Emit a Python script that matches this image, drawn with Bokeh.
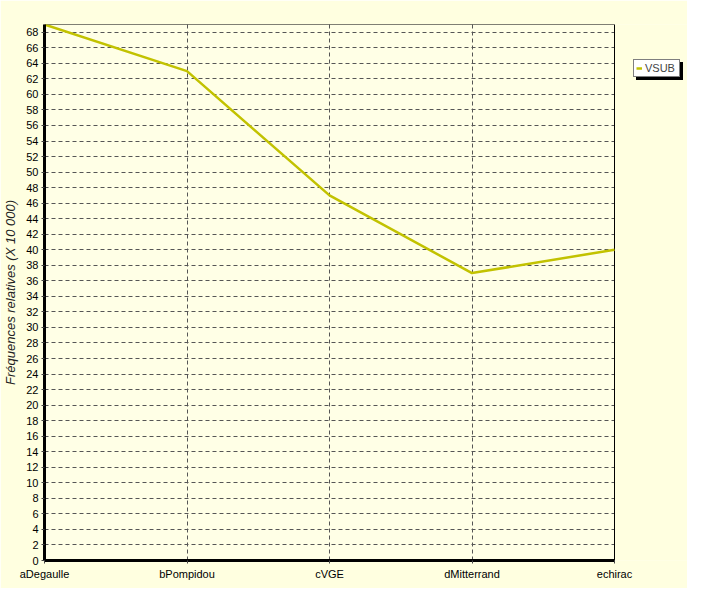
from bokeh.plotting import figure
from bokeh.models import Range1d, FixedTicker, SingleIntervalTicker, Legend, LegendItem, ColumnDataSource
from bokeh.embed import file_html
from bokeh.resources import INLINE

categories = ["aDegaulle", "bPompidou", "cVGE", "dMitterrand", "echirac"]
vsub = [69, 63, 47, 37, 40]
series_name = "VSUB"
y_title = "Fréquences relatives (X 10 000)"
y_max = 69

W, H = 687, 588
left, top, right, bottom = 44, 24, 0, 28
plot_px = 570  # width of the visible plotting box in pixels

n = len(categories)
xs = list(range(n))
frame_px = W - left - right
x_end = (n - 1) * frame_px / plot_px
src = ColumnDataSource(dict(x=xs, y=vsub))

p = figure(width=W, height=H, output_backend="svg", toolbar_location=None,
           x_range=Range1d(0, x_end), y_range=Range1d(0, y_max),
           min_border_left=left, min_border_top=top, min_border_right=right,
           min_border_bottom=bottom)
bg_outer = "#FFFFE0"
p.border_fill_color = bg_outer
p.background_fill_color = bg_outer
p.outline_line_color = None

# plot area background (beneath grid)
p.quad(left=0, right=n - 1, bottom=0, top=y_max, fill_color="#FFFFE6",
       line_color=None, level="image")
# cover the extension area right of the plotting box
p.quad(left=n - 1, right=x_end, bottom=0, top=y_max, fill_color=bg_outer,
       line_color=None)
# plot box outline
p.quad(left=0, right=n - 1, bottom=0, top=y_max, fill_alpha=0,
       line_color="black", line_width=1)

r = p.line("x", "y", source=src, line_color="#C2C200", line_width=2.5)

p.xaxis.ticker = FixedTicker(ticks=xs)
p.xaxis.bounds = (0, n - 1)
p.xaxis.major_label_overrides = {i: c for i, c in enumerate(categories)}
p.yaxis.ticker = SingleIntervalTicker(interval=2)
p.yaxis.minor_tick_line_color = None
p.xaxis.minor_tick_line_color = None
for ax in (p.xaxis, p.yaxis):
    ax.axis_line_width = 3
    ax.axis_line_color = "black"
    ax.major_tick_in = 0
    ax.major_tick_out = 3
    ax.major_tick_line_color = "#444444"
    ax.major_label_text_font = "Liberation Sans"
    ax.major_label_text_font_size = "11px"
    ax.major_label_text_color = "black"
    ax.major_label_standoff = 2
p.yaxis.axis_label = y_title
p.yaxis.axis_label_text_font = "Liberation Sans"
p.yaxis.axis_label_text_font_style = "italic"
p.yaxis.axis_label_text_font_size = "13px"
p.yaxis.axis_label_text_color = "#222222"
p.yaxis.axis_label_standoff = 5
p.xaxis.major_label_standoff = 4

p.xgrid.grid_line_color = "#555555"
p.xgrid.grid_line_dash = "4 3"
p.ygrid.grid_line_color = "#555555"
p.ygrid.grid_line_dash = "4 3"

common = dict(orientation="vertical", label_text_font="Liberation Sans",
              label_text_font_size="11px", label_height=12, glyph_width=6,
              glyph_height=12, padding=2, spacing=0, margin=0, label_standoff=3,
              label_width=32, border_line_color="black", border_line_width=1,
              background_fill_alpha=1)
shadow = Legend(items=[LegendItem(label=" ", renderers=[r])],
                location=(592, 480), background_fill_color="black", **common)
legend = Legend(items=[LegendItem(label=series_name, renderers=[r])],
                location=(589, 483), background_fill_color="white", **common)
p.add_layout(shadow, "center")
p.add_layout(legend, "center")

open("out.html", "w").write(file_html(p, INLINE))
